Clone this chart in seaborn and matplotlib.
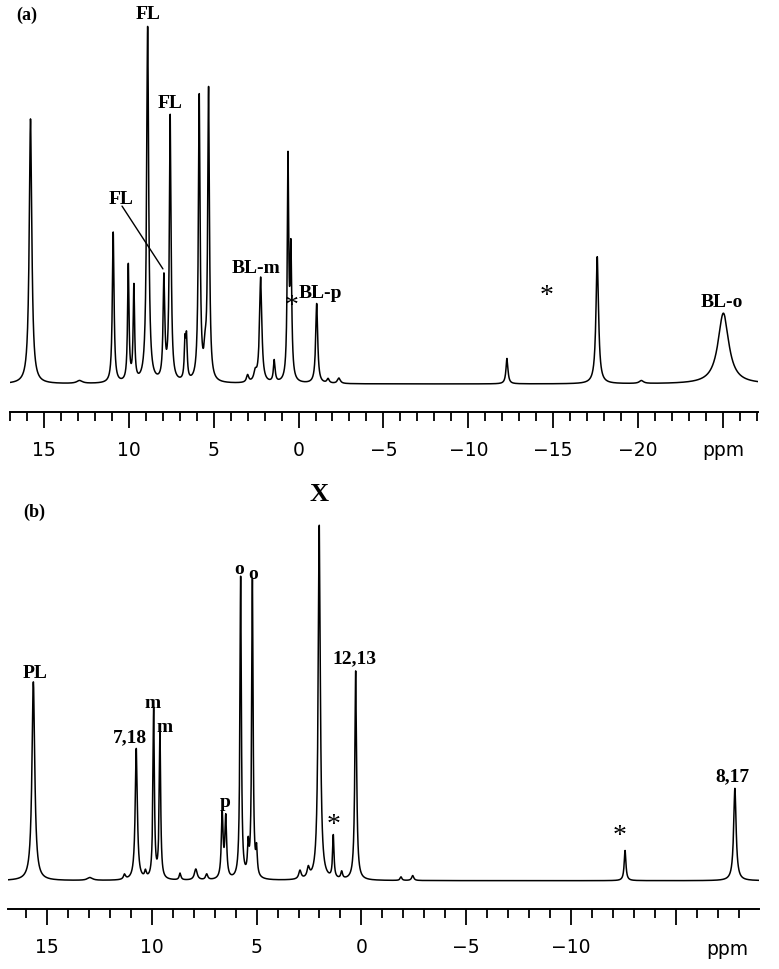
import numpy as np
import pandas as pd
import matplotlib
matplotlib.use("Agg")
import matplotlib.pyplot as plt
import seaborn as sns
from matplotlib.ticker import MultipleLocator, FixedLocator, FixedFormatter

# ---- panel (a): peak list (shift ppm, rel. height, half width ppm)
shift_a = [15.79, 12.9, 10.92, 10.03, 9.70, 8.89, 7.93, 7.56, 6.69, 6.60, 5.85, 5.50, 5.30,
           3.00, 2.55, 2.23, 1.43, 0.62, 0.45, -1.07, -1.74, -2.38, -12.28, -17.60, -20.2, -25.03]
height_a = [73, 0.8, 41.5, 32, 26, 98, 28, 73, 10, 11, 78.5, 6, 80,
            2, 2.5, 29, 6, 60, 35, 22, 1.2, 1.5, 7, 35, 0.8, 19.5]
width_a = [0.09, 0.2, 0.06, 0.05, 0.05, 0.07, 0.06, 0.06, 0.05, 0.05, 0.06, 0.08, 0.06,
           0.08, 0.1, 0.08, 0.06, 0.05, 0.06, 0.07, 0.08, 0.1, 0.07, 0.09, 0.15, 0.38]

# ---- panel (b)
shift_b = [15.65, 12.95, 11.3, 10.74, 10.3, 9.91, 9.61, 8.65, 7.9, 7.38, 6.64, 6.47, 5.76,
           5.40, 5.20, 5.00, 2.93, 2.53, 2.01, 1.34, 0.94, 0.27, -1.89, -2.45, -12.58, -17.82]
height_b = [56, 0.8, 1.4, 37, 1.9, 48, 41, 1.9, 3.1, 1.6, 18, 17, 85,
            8, 84, 7, 2.4, 2.8, 100, 12, 2, 59, 1, 1.4, 8.5, 26]
width_b = [0.08, 0.15, 0.06, 0.06, 0.05, 0.04, 0.04, 0.05, 0.08, 0.06, 0.05, 0.05, 0.04,
           0.04, 0.04, 0.04, 0.07, 0.07, 0.06, 0.04, 0.05, 0.05, 0.05, 0.06, 0.05, 0.07]

# peak labels (text, shift, height)
labels_a = [("FL", 8.87, 101.9), ("FL", 7.58, 77.4), ("FL", 10.46, 51.0),
            ("BL-m", 2.51, 32.2), ("*", 0.39, 23.4), ("BL-p", -1.26, 25.3),
            ("*", -14.62, 26.2), ("BL-o", -24.93, 22.6)]
labels_b = [("PL", 15.57, 58.5), ("7,18", 11.04, 40.5), ("m", 9.94, 50.1),
            ("m", 9.37, 43.4), ("p", 6.51, 22.2), ("o", 5.84, 87.8), ("o", 5.17, 86.4),
            ("*", 1.31, 17.7), ("12,13", 0.35, 62.7), ("*", -12.34, 14.6),
            ("8,17", -17.68, 29.5)]


def spectrum(lo, hi, shifts, heights, widths):
    ppm = np.arange(lo, hi, 0.004)
    y = np.zeros_like(ppm)
    for s, h, w in zip(shifts, heights, widths):
        y += h / (1 + ((ppm - s) / w) ** 2)
    return pd.DataFrame({"ppm": ppm, "intensity": y})


def style_axis(ax, xlim, ylim, majors, major_labels):
    ax.set_xlim(*xlim)
    ax.set_ylim(*ylim)
    for side in ["left", "right", "top"]:
        ax.spines[side].set_visible(False)
    ax.spines["bottom"].set_linewidth(1.4)
    ax.spines["bottom"].set_color("black")
    ax.set_yticks([])
    ax.xaxis.set_major_locator(FixedLocator(majors))
    ax.xaxis.set_major_formatter(FixedFormatter(major_labels))
    ax.xaxis.set_minor_locator(MultipleLocator(1))
    ax.tick_params(axis="x", which="both", bottom=True, color="black")
    ax.tick_params(axis="x", which="major", length=11.5, width=1.3, direction="out",
                   pad=9, labelsize=13.5, labelcolor="black")
    ax.tick_params(axis="x", which="minor", length=6.5, width=1.3, direction="out")
    ax.set_xlabel("")
    ax.set_ylabel("")


def put_labels(ax, labels):
    for txt, x, y in labels:
        if txt == "*":
            ax.annotate(txt, (x, y), xytext=(0, -5), textcoords="offset points",
                        ha="center", va="center", fontsize=20, color="black", family=serif)
        else:
            ax.text(x, y, txt, ha="center", va="center", fontsize=14, fontweight="bold",
                    color="black", family=serif)


sns.set_style("white")
plt.rcParams["font.family"] = ["DejaVu Sans"]
serif = ["Liberation Serif", "DejaVu Serif"]

W, H = 779, 970
fig = plt.figure(figsize=(W / 100, H / 100), dpi=100)

# panel (a)
ax_a = fig.add_axes([10 / W, 1 - 413 / H, 748 / W, 398 / H])
df_a = spectrum(-27.1, 17.0, shift_a, height_a, width_a)
sns.lineplot(data=df_a, x="ppm", y="intensity", ax=ax_a, color="black",
             linewidth=1.1, estimator=None, sort=False)
style_axis(ax_a, (17.0, -27.07), (-7.71, 101.9),
           [15, 10, 5, 0, -5, -10, -15, -20, -25],
           ["15", "10", "5", "0", "\u22125", "\u221210", "\u221215", "\u221220", "ppm"])
put_labels(ax_a, labels_a)
ax_a.annotate("", xy=(7.99, 31.7), xytext=(10.40, 49.0),
              arrowprops=dict(arrowstyle="-", color="black", lw=1.0, shrinkA=0, shrinkB=0))

# panel (b)
ax_b = fig.add_axes([8 / W, 1 - 910 / H, 751 / W, 415 / H])
df_b = spectrum(-19.0, 16.86, shift_b, height_b, width_b)
sns.lineplot(data=df_b, x="ppm", y="intensity", ax=ax_b, color="black",
             linewidth=1.1, estimator=None, sort=False)
style_axis(ax_b, (16.86, -18.97), (-7.97, 108.9),
           [15, 10, 5, 0, -5, -10, -15],
           ["15", "10", "5", "0", "\u22125", "\u221210", ""])
put_labels(ax_b, labels_b)
ax_b.text(2.02, 108.9, "X", ha="center", va="center", fontsize=19, fontweight="bold",
          color="black", family=serif)

fig.text(27 / W, 1 - 15 / H, "(a)", ha="center", va="center", fontsize=13,
         fontweight="bold", color="black", family=serif)
fig.text(34 / W, 1 - 512 / H, "(b)", ha="center", va="center", fontsize=13,
         fontweight="bold", color="black", family=serif)
fig.text(727 / W, 1 - 950 / H, "ppm", ha="center", va="center", fontsize=13.5,
         color="black")

fig.savefig("out.png", dpi=100)
